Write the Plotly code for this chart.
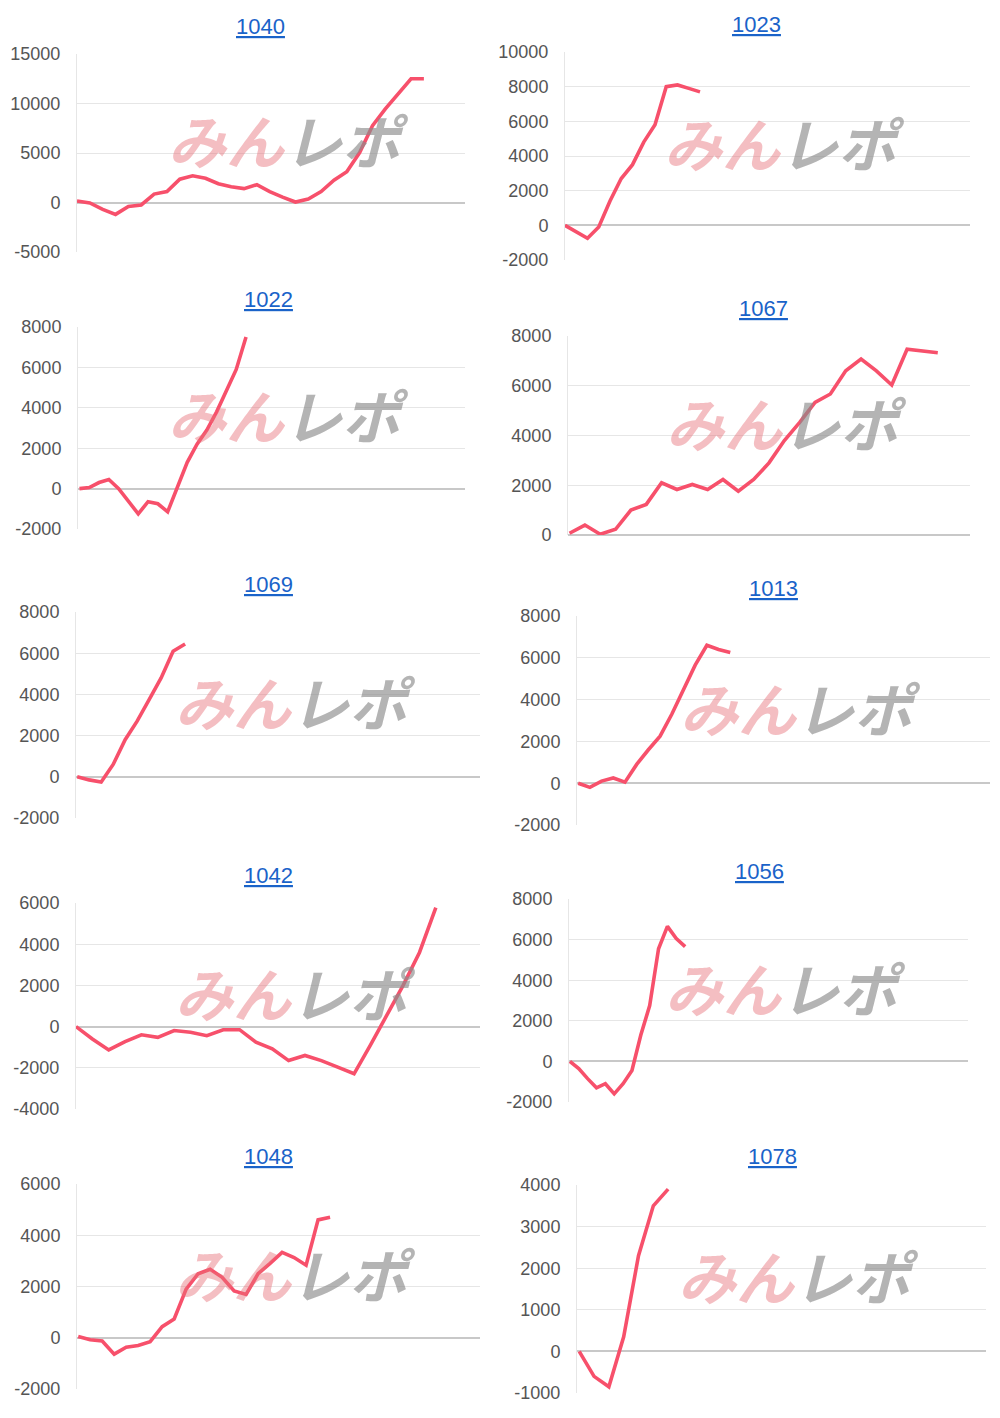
import plotly.graph_objects as go

titles = ["1040", "1023", "1022", "1067", "1069", "1013", "1042", "1056", "1048", "1078"]

v1040 = [150, -50, -700, -1200, -400, -250, 850, 1100, 2350, 2700, 2450, 1900, 1600, 1400,
         1800, 1100, 550, 50, 350, 1100, 2250, 3100, 5050, 7750, 9450, 11000, 12500, 12500]
v1023 = [0, -400, -750, -100, 1400, 2700, 3500, 4800, 5800, 8000, 8100, 7900, 7700]
v1022 = [0, 50, 300, 450, 0, -600, -1250, -650, -750, -1150, 100, 1300, 2200, 2900, 3800,
         4800, 5900, 7500]
v1067 = [70, 400, 30, 230, 1000, 1230, 2100, 1830, 2030, 1830, 2230, 1760, 2230, 2900, 3800,
         4530, 5330, 5670, 6600, 7070, 6600, 6030, 7470, 7400, 7330]
v1069 = [0, -150, -250, 600, 1800, 2700, 3750, 4800, 6100, 6450]
v1013 = [0, -200, 100, 250, 50, 900, 1600, 2250, 3300, 4500, 5650, 6600, 6400, 6250]
v1042 = [0, -600, -1130, -730, -400, -520, -190, -270, -440, -150, -150, -760, -1080, -1650,
         -1400, -1650, -1970, -2290, -900, 550, 2000, 3600, 5770]
v1056 = [0, -350, -850, -1300, -1100, -1600, -1100, -450, 1300, 2750, 5550, 6650, 6050, 5650]
v1048 = [50, -80, -130, -640, -370, -300, -150, 430, 730, 1900, 2500, 2670, 2360, 1830, 1690,
         2500, 2900, 3330, 3130, 2830, 4600, 4700]
v1078 = [0, -600, -850, 350, 2300, 3500, 3900]

series = [v1040, v1023, v1022, v1067, v1069, v1013, v1042, v1056, v1048, v1078]
y_ticks = [
    [-5000, 0, 5000, 10000, 15000],
    [-2000, 0, 2000, 4000, 6000, 8000, 10000],
    [-2000, 0, 2000, 4000, 6000, 8000],
    [0, 2000, 4000, 6000, 8000],
    [-2000, 0, 2000, 4000, 6000, 8000],
    [-2000, 0, 2000, 4000, 6000, 8000],
    [-4000, -2000, 0, 2000, 4000, 6000],
    [-2000, 0, 2000, 4000, 6000, 8000],
    [-2000, 0, 2000, 4000, 6000],
    [-1000, 0, 1000, 2000, 3000, 4000],
]
x_slots = [30.2, 36, 39.5, 26.2, 33.7, 35.3, 24.7, 45, 33.6, 27.6]

# panel plot-area boxes in pixels: (left, right, top, bottom), title (x, y)
boxes = [
    (77, 465, 54, 252, 260, 27), (565, 970, 52, 260, 756, 25),
    (78, 465, 327, 529, 268, 299), (568, 970, 336, 535, 763, 308),
    (76, 480, 612, 818, 268, 584), (577, 990, 616, 825, 773, 588),
    (76, 480, 903, 1109, 268, 875), (569, 968, 899, 1102, 759, 871),
    (77, 480, 1184, 1389, 268, 1156), (577, 986, 1185, 1393, 772, 1156),
]
x_offsets = [0, 0, 0.15, 0.1, 0.1, 0.1, 0, 0.1, 0.1, 0.15]

W, H = 1000, 1418
OFF = 8  # page body margin
def px(x): return (x - OFF) / W
def py(y): return 1 - (y - OFF) / H

fig = go.Figure()
anns = []
for i, (t, vals) in enumerate(zip(titles, series)):
    l, r, tp, b, tx, ty = boxes[i]
    n = "" if i == 0 else str(i + 1)
    xs = [x_offsets[i] + k for k in range(len(vals))]
    fig.add_trace(go.Scatter(x=xs, y=vals, mode="lines", xaxis="x" + n, yaxis="y" + n,
                             line=dict(color="#f7506b", width=3.6), showlegend=False,
                             hoverinfo="skip"))
    yt = y_ticks[i]
    fig.layout["xaxis" + n] = dict(domain=[px(l), px(r)], range=[0, x_slots[i]],
                                   anchor="y" + n, showgrid=False, showticklabels=False,
                                   zeroline=False, showline=False, fixedrange=True)
    fig.layout["yaxis" + n] = dict(domain=[py(b), py(tp)], range=[yt[0], yt[-1]],
                                   anchor="x" + n, tickvals=yt, ticktext=[str(v) for v in yt],
                                   gridcolor="#e6e6e6", gridwidth=1, zeroline=True,
                                   zerolinecolor="#c8c8c8", zerolinewidth=1.5,
                                   showline=True, linecolor="#e6e6e6", linewidth=1,
                                   ticks="", ticklen=0, ticklabelstandoff=12,
                                   tickfont=dict(family="Liberation Sans, Arial", size=18,
                                                 color="#555555"))
    anns.append(dict(x=px(tx), y=py(ty), xref="paper", yref="paper", showarrow=False,
                     xanchor="center", yanchor="middle",
                     text="<u>" + t + "</u>",
                     font=dict(family="Liberation Sans, Arial", size=22, color="#1a63c9")))
    cx = (l + r) / 2 + 17
    cy = (tp + b) / 2 - 14
    anns.append(dict(x=px(cx), y=py(cy), xref="paper", yref="paper", showarrow=False,
                     xanchor="center", yanchor="middle",
                     text="<b><i><span style='color:rgba(230,110,120,0.45)'>みん</span>"
                          "<span style='color:rgba(140,140,140,0.65)'>レポ</span></i></b>",
                     font=dict(family="Noto Sans CJK JP", size=58)))

fig.update_layout(width=W, height=H, margin=dict(l=0, r=0, t=0, b=0, autoexpand=False),
                  paper_bgcolor="white", plot_bgcolor="white", annotations=anns)
fig.write_html("out.html")
